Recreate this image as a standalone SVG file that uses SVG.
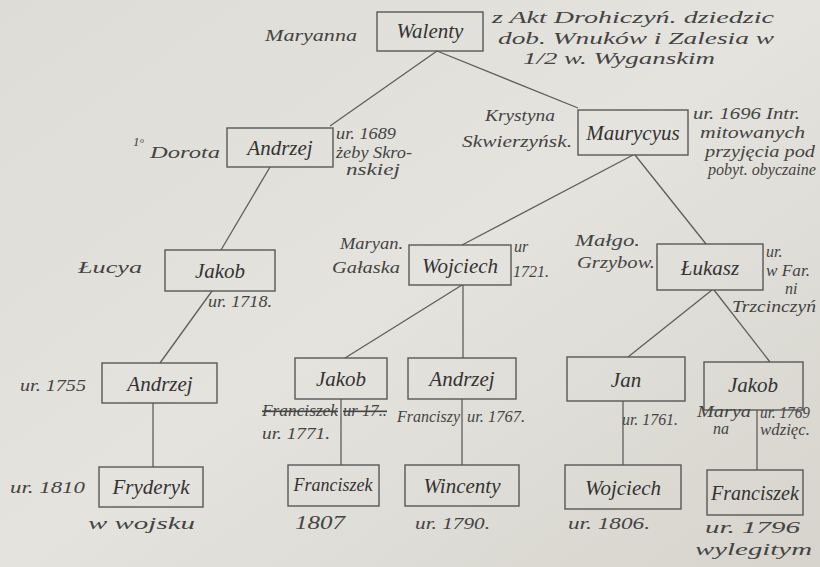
<svg xmlns="http://www.w3.org/2000/svg" width="820" height="567" viewBox="0 0 820 567">
<defs>
<linearGradient id="paper" x1="0" y1="0" x2="1" y2="1">
<stop offset="0" stop-color="#dddcd7"/>
<stop offset="0.5" stop-color="#e4e3de"/>
<stop offset="1" stop-color="#d6d4cc"/>
</linearGradient>
<style>
.box{fill:none;stroke:#585858;stroke-width:1.4}
.ln{fill:none;stroke:#5e5e5e;stroke-width:1.3}
.nm{font-family:"Liberation Serif","DejaVu Serif",serif;font-style:italic;font-size:21px;fill:#333;text-anchor:middle}
.an{font-family:"Liberation Serif","DejaVu Serif",serif;font-style:italic;font-size:16px;fill:#444}
.st{text-decoration:line-through}
</style>
</defs>
<rect width="820" height="567" fill="url(#paper)"/>
<g id="connectors">
<path class="ln" d="M437,51 L330,126"/>
<path class="ln" d="M437,51 L578,108"/>
<path class="ln" d="M270,167 L221,250"/>
<path class="ln" d="M212,291 L160,363"/>
<path class="ln" d="M633,155 L462,245"/>
<path class="ln" d="M635,155 L706,244"/>
<path class="ln" d="M462,285 L345,358"/>
<path class="ln" d="M463,285 L463,358"/>
<path class="ln" d="M712,290 L628,357"/>
<path class="ln" d="M714,290 L770,362"/>
<path class="ln" d="M153,403 L153,467"/>
<path class="ln" d="M341,399 L341,465"/>
<path class="ln" d="M462,399 L462,465"/>
<path class="ln" d="M623,401 L623,465"/>
<path class="ln" d="M757,410 L757,470"/>
</g>
<g id="walenty">
<rect class="box" x="377" y="12" width="106" height="39"/>
<text class="nm" x="430" y="38">Walenty</text>
<text class="an" x="265" y="41" textLength="92" lengthAdjust="spacingAndGlyphs">Maryanna</text>
<text class="an" x="492" y="23" textLength="282" lengthAdjust="spacingAndGlyphs">z Akt Drohiczyń. dziedzic</text>
<text class="an" x="498" y="44" textLength="276" lengthAdjust="spacingAndGlyphs">dob. Wnuków i Zalesia w</text>
<text class="an" x="523" y="64" textLength="192" lengthAdjust="spacingAndGlyphs">1/2 w. Wyganskim</text>
</g>
<g id="andrzej1">
<rect class="box" x="227" y="128" width="106" height="39"/>
<text class="nm" x="280" y="155">Andrzej</text>
<text class="an" x="133" y="146" style="font-size:13px">1ᵒ</text>
<text class="an" x="150" y="158" textLength="70" lengthAdjust="spacingAndGlyphs">Dorota</text>
<text class="an" x="336" y="139" textLength="60" lengthAdjust="spacingAndGlyphs">ur. 1689</text>
<text class="an" x="336" y="158" textLength="76" lengthAdjust="spacingAndGlyphs">żeby Skro-</text>
<text class="an" x="346" y="175" textLength="54" lengthAdjust="spacingAndGlyphs">nskiej</text>
</g>
<g id="maurycy">
<rect class="box" x="578" y="110" width="110" height="45"/>
<text class="nm" x="633" y="140">Maurycyus</text>
<text class="an" x="485" y="121" textLength="70" lengthAdjust="spacingAndGlyphs">Krystyna</text>
<text class="an" x="462" y="147" textLength="110" lengthAdjust="spacingAndGlyphs">Skwierzyńsk.</text>
<text class="an" x="693" y="119" textLength="107" lengthAdjust="spacingAndGlyphs">ur. 1696 Intr.</text>
<text class="an" x="700" y="138" textLength="105" lengthAdjust="spacingAndGlyphs">mitowanych</text>
<text class="an" x="705" y="157" textLength="110" lengthAdjust="spacingAndGlyphs">przyjęcia pod</text>
<text class="an" x="708" y="175" textLength="108" lengthAdjust="spacingAndGlyphs">pobyt. obyczaine</text>
</g>
<g id="jakob1">
<rect class="box" x="165" y="250" width="110" height="41"/>
<text class="nm" x="220" y="278">Jakob</text>
<text class="an" x="78" y="273" textLength="64" lengthAdjust="spacingAndGlyphs">Łucya</text>
<text class="an" x="208" y="307" textLength="64" lengthAdjust="spacingAndGlyphs">ur. 1718.</text>
</g>
<g id="wojciech1">
<rect class="box" x="409" y="245" width="102" height="40"/>
<text class="nm" x="460" y="273">Wojciech</text>
<text class="an" x="340" y="249" textLength="63" lengthAdjust="spacingAndGlyphs">Maryan.</text>
<text class="an" x="332" y="273" textLength="68" lengthAdjust="spacingAndGlyphs">Gałaska</text>
<text class="an" x="514" y="252">ur</text>
<text class="an" x="513" y="277">1721.</text>
</g>
<g id="lukasz">
<rect class="box" x="657" y="244" width="106" height="46"/>
<text class="nm" x="710" y="275">Łukasz</text>
<text class="an" x="575" y="246" textLength="65" lengthAdjust="spacingAndGlyphs">Małgo.</text>
<text class="an" x="577" y="268" textLength="78" lengthAdjust="spacingAndGlyphs">Grzybow.</text>
<text class="an" x="766" y="257">ur.</text>
<text class="an" x="766" y="276" textLength="44" lengthAdjust="spacingAndGlyphs">w Far.</text>
<text class="an" x="785" y="294">ni</text>
<text class="an" x="732" y="312" textLength="84" lengthAdjust="spacingAndGlyphs">Trzcinczyń</text>
</g>
<g id="andrzej2">
<rect class="box" x="102" y="363" width="115" height="40"/>
<text class="nm" x="160" y="391">Andrzej</text>
<text class="an" x="20" y="391" textLength="66" lengthAdjust="spacingAndGlyphs">ur. 1755</text>
</g>
<g id="jakob2">
<rect class="box" x="295" y="358" width="92" height="41"/>
<text class="nm" x="341" y="386">Jakob</text>
<text class="an st" x="262" y="416" textLength="76" lengthAdjust="spacingAndGlyphs">Franciszek</text>
<text class="an st" x="343" y="416" textLength="44" lengthAdjust="spacingAndGlyphs">ur 17..</text>
<text class="an" x="262" y="439" textLength="68" lengthAdjust="spacingAndGlyphs">ur. 1771.</text>
</g>
<g id="andrzej3">
<rect class="box" x="408" y="358" width="108" height="41"/>
<text class="nm" x="462" y="386">Andrzej</text>
<text class="an" x="397" y="422" textLength="63" lengthAdjust="spacingAndGlyphs">Franciszy</text>
<text class="an" x="467" y="422" textLength="58" lengthAdjust="spacingAndGlyphs">ur. 1767.</text>
</g>
<g id="jan">
<rect class="box" x="567" y="357" width="118" height="44"/>
<text class="nm" x="626" y="387">Jan</text>
<text class="an" x="622" y="425" textLength="56" lengthAdjust="spacingAndGlyphs">ur. 1761.</text>
</g>
<g id="jakob3">
<rect class="box" x="704" y="362" width="99" height="48"/>
<text class="nm" x="753" y="392">Jakob</text>
<text class="an" x="697" y="417" textLength="54" lengthAdjust="spacingAndGlyphs">Marya</text>
<text class="an" x="713" y="434">na</text>
<text class="an" x="760" y="418" textLength="50" lengthAdjust="spacingAndGlyphs">ur. 1769</text>
<text class="an" x="760" y="435" textLength="50" lengthAdjust="spacingAndGlyphs">wdzięc.</text>
</g>
<g id="fryderyk">
<rect class="box" x="99" y="467" width="104" height="40"/>
<text class="nm" x="151" y="494">Fryderyk</text>
<text class="an" x="10" y="493" textLength="75" lengthAdjust="spacingAndGlyphs">ur. 1810</text>
<text class="an" x="88" y="529" textLength="107" lengthAdjust="spacingAndGlyphs">w wojsku</text>
</g>
<g id="franciszek1">
<rect class="box" x="288" y="465" width="91" height="41"/>
<text class="nm" x="333" y="491" style="font-size:18px">Franciszek</text>
<text class="an" x="295" y="529" style="font-size:18px" textLength="50" lengthAdjust="spacingAndGlyphs">1807</text>
</g>
<g id="wincenty">
<rect class="box" x="405" y="465" width="114" height="41"/>
<text class="nm" x="462" y="493">Wincenty</text>
<text class="an" x="415" y="529" textLength="75" lengthAdjust="spacingAndGlyphs">ur. 1790.</text>
</g>
<g id="wojciech2">
<rect class="box" x="565" y="465" width="116" height="44"/>
<text class="nm" x="623" y="495">Wojciech</text>
<text class="an" x="568" y="529" textLength="82" lengthAdjust="spacingAndGlyphs">ur. 1806.</text>
</g>
<g id="franciszek2">
<rect class="box" x="707" y="470" width="96" height="45"/>
<text class="nm" x="755" y="500" style="font-size:20px">Franciszek</text>
<text class="an" x="705" y="533" style="font-size:17px" textLength="95" lengthAdjust="spacingAndGlyphs">ur. 1796</text>
<text class="an" x="695" y="555" style="font-size:17px" textLength="117" lengthAdjust="spacingAndGlyphs">wylegitym</text>
</g>
</svg>
